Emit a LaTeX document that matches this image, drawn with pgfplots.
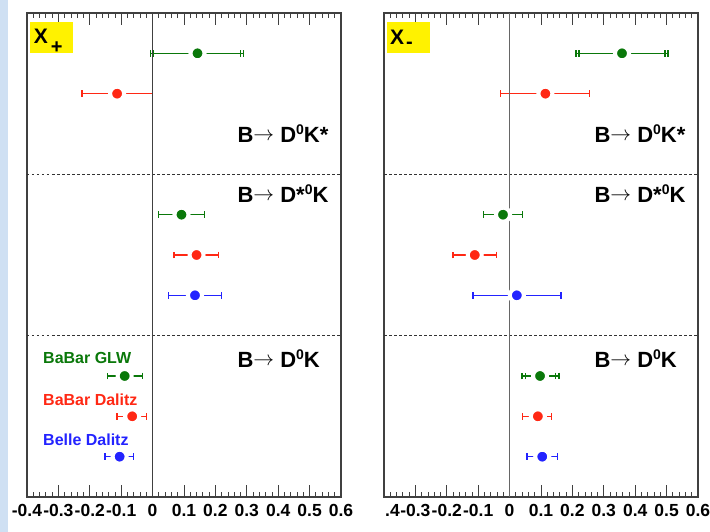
\documentclass[border=0pt]{standalone}
\usepackage{pgfplots}
\pgfplotsset{compat=1.18}
\usepackage{fontspec}
\setmainfont{Liberation Sans}
\definecolor{cgreen}{RGB}{10,120,10}
\definecolor{cred}{RGB}{255,40,20}
\definecolor{cblue}{RGB}{35,35,255}
\definecolor{strip}{RGB}{207,224,243}
\newcommand{\supz}{\raisebox{8pt}{\fontsize{14}{14}\selectfont 0}}
\newcommand{\Barrow}{B\raisebox{2pt}{$\rightarrow$}\ }
\newcommand{\bigf}{\fontsize{22}{22}\selectfont\bfseries}
\newcommand{\legf}{\fontsize{16}{16}\selectfont\bfseries}
\pgfplotsset{
  panel/.style={
    anchor=south west, scale only axis, width=314pt, height=484pt,
    xmin=-0.4, xmax=0.6, ymin=0, ymax=12,
    ytick=\empty,
    xtick={-0.4,-0.3,-0.2,-0.1,0,0.1,0.2,0.3,0.4,0.5,0.6},
    minor x tick num=4,
    tick align=inside,
    major tick length=12pt, minor tick length=5pt,
    every tick/.style={black!75, line width=0.8pt},
    axis line style={black!75, line width=1.2pt},
    xticklabel style={font=\fontsize{17.5}{17.5}\selectfont\bfseries, inner sep=0pt, yshift=-7pt},
    clip=false,
  },
  dot/.style={color=#1, line width=1.5pt, only marks, mark=*, mark size=7pt,
    mark options={draw=white, line width=4pt, fill=#1},
    error bars/.cd, x dir=both, x explicit, error mark=|,
    error bar style={color=#1, line width=1.5pt, solid},
    error mark options={color=#1, line width=1.4pt, mark size=3.3pt}},
  caps/.style={color=#1, line width=1.5pt, only marks, mark=none, forget plot,
    error bars/.cd, x dir=both, x explicit, error mark=|,
    error bar style={color=#1, line width=1.5pt, solid},
    error mark options={color=#1, line width=1.4pt, mark size=3.3pt}},
}
\begin{document}
\begin{tikzpicture}
\useasboundingbox (0,0) rectangle (710pt,532pt);
\fill[strip] (0,0) rectangle (8pt,532pt);
% ---------------- left panel: x+
\begin{axis}[panel, at={(27pt,35pt)},
  xticklabels={-0.4,-0.3,-0.2,-0.1,0,0.1,0.2,0.3,0.4,0.5,0.6}]
\addplot[black!80, line width=0.9pt, dash pattern=on 2.5pt off 2.5pt, forget plot] coordinates {(-0.4,4) (0.6,4)};
\addplot[black!80, line width=0.9pt, dash pattern=on 2.5pt off 2.5pt, forget plot] coordinates {(-0.4,8) (0.6,8)};
\addplot[caps=cgreen] coordinates {
  (0.143,11) += (0.1375,0) -= (0.1395,0)
};
\addplot[dot=cgreen] coordinates {
  (0.143,11) += (0.147,0) -= (0.149,0)
  (0.092,7) += (0.074,0) -= (0.074,0)
  (-0.089,3) += (0.056,0) -= (0.054,0)
};
\addplot[dot=cred] coordinates {
  (-0.113,10) += (0.113,0) -= (0.112,0)
  (0.140,6) += (0.070,0) -= (0.072,0)
  (-0.065,2) += (0.045,0) -= (0.048,0)
};
\addplot[dot=cblue] coordinates {
  (0.135,5) += (0.085,0) -= (0.085,0)
  (-0.105,1) += (0.045,0) -= (0.047,0)
};
\addplot[black!75, line width=1pt, forget plot] coordinates {(0,0) (0,12)};
\fill[yellow] (axis cs:-0.39,11.01) rectangle (axis cs:-0.252,11.78);
\node[anchor=base west, inner sep=0pt] at (axis cs:-0.379,11.25)
  {\fontsize{21}{21}\selectfont\bfseries X\hspace{3pt}\raisebox{-10pt}{\fontsize{20}{20}\selectfont +}};
\node[anchor=base west, inner sep=0pt] at (axis cs:0.27,8.785) {\bigf \Barrow D\supz K*};
\node[anchor=base west, inner sep=0pt] at (axis cs:0.27,7.30) {\bigf \Barrow D*\supz K};
\node[anchor=base west, inner sep=0pt] at (axis cs:0.27,3.215) {\bigf \Barrow D\supz K};
\node[anchor=base west, inner sep=0pt, text=cgreen] at (axis cs:-0.349,3.30) {\legf BaBar GLW};
\node[anchor=base west, inner sep=0pt, text=cred] at (axis cs:-0.349,2.28) {\legf BaBar Dalitz};
\node[anchor=base west, inner sep=0pt, text=cblue] at (axis cs:-0.349,1.265) {\legf Belle Dalitz};
\end{axis}
% ---------------- right panel: x-
\begin{axis}[panel, at={(384pt,35pt)},
  xticklabels={,-0.3,-0.2,-0.1,0,0.1,0.2,0.3,0.4,0.5,0.6},
  extra x ticks={-0.4}, extra x tick labels={.4},
  extra x tick style={xticklabel style={anchor=north west, xshift=1pt}}]
\addplot[black!80, line width=0.9pt, dash pattern=on 2.5pt off 2.5pt, forget plot] coordinates {(-0.4,4) (0.6,4)};
\addplot[black!80, line width=0.9pt, dash pattern=on 2.5pt off 2.5pt, forget plot] coordinates {(-0.4,8) (0.6,8)};
\addplot[caps=cgreen] coordinates {
  (0.358,11) += (0.1375,0) -= (0.1365,0)
  (0.097,3) += (0.050,0) -= (0.047,0)
};
\addplot[dot=cgreen] coordinates {
  (0.358,11) += (0.147,0) -= (0.146,0)
  (-0.021,7) += (0.063,0) -= (0.062,0)
  (0.097,3) += (0.060,0) -= (0.057,0)
};
\addplot[dot=cred] coordinates {
  (0.114,10) += (0.140,0) -= (0.143,0)
  (-0.111,6) += (0.069,0) -= (0.069,0)
  (0.090,2) += (0.044,0) -= (0.048,0)
};
\addplot[dot=cblue] coordinates {
  (0.023,5) += (0.141,0) -= (0.139,0)
  (0.104,1) += (0.049,0) -= (0.048,0)
};
\addplot[black!60, line width=1pt, forget plot] coordinates {(0,0) (0,12)};
\fill[yellow] (axis cs:-0.39,11.01) rectangle (axis cs:-0.254,11.78);
\node[anchor=base west, inner sep=0pt] at (axis cs:-0.381,11.22)
  {\fontsize{21}{21}\selectfont\bfseries X\hspace{2pt}\raisebox{-4.4pt}{\fontsize{20}{20}\selectfont -}};
\node[anchor=base west, inner sep=0pt] at (axis cs:0.27,8.785) {\bigf \Barrow D\supz K*};
\node[anchor=base west, inner sep=0pt] at (axis cs:0.27,7.30) {\bigf \Barrow D*\supz K};
\node[anchor=base west, inner sep=0pt] at (axis cs:0.27,3.215) {\bigf \Barrow D\supz K};
\end{axis}
\end{tikzpicture}
\end{document}
